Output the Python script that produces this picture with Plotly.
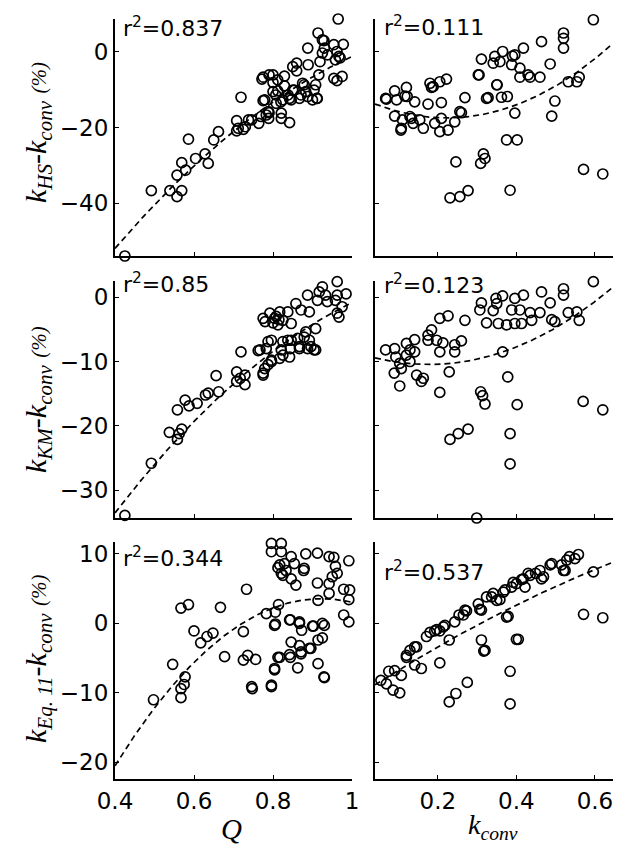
import numpy as np
import plotly.graph_objects as go

# ---------------- data ----------------
# Row 1: k_HS - k_conv (%)
Q_hs = [
    0.425, 0.492, 0.539, 0.557, 0.569, 0.557, 0.569, 0.579, 0.586, 0.604,
    0.628, 0.636, 0.650, 0.662, 0.708, 0.719, 0.708, 0.725, 0.738, 0.764,
    0.775, 0.775, 0.783, 0.789, 0.790, 0.790, 0.800, 0.807, 0.812, 0.821,
    0.825, 0.829, 0.829, 0.842, 0.838, 0.846, 0.850, 0.854, 0.860, 0.871,
    0.879, 0.888, 0.889, 0.888, 0.900, 0.904, 0.911, 0.908, 0.914, 0.916,
    0.919, 0.925, 0.925, 0.965, 0.929, 0.930, 0.938, 0.962, 0.967, 0.958,
    0.954, 0.962, 0.772, 0.800, 0.812, 0.850, 0.875, 0.883, 0.912, 0.867,
    0.842, 0.800, 0.779, 0.808, 0.820, 0.788, 0.770, 0.746, 0.730, 0.821,
    0.712, 0.954, 0.970, 0.975, 0.978, 0.860]
d_hs_Q = [
    -54.0, -36.7, -36.7, -38.3, -36.7, -32.6, -29.3, -31.3, -23.1, -28.2,
    -27.0, -29.5, -23.3, -21.1, -18.2, -12.0, -20.9, -20.5, -18.0, -18.9,
    -12.9, -6.7, -16.7, -17.6, -16.1, -6.1, -8.1, -11.4, -10.3, -17.6,
    -12.7, -9.0, -6.4, -18.7, -11.4, -12.7, -3.9, -10.1, -3.0, -11.4,
    -8.7, 1.0, -3.4, -11.8, -12.7, -10.1, -12.3, -8.7, 5.0, -6.1,
    -2.6, 3.2, -0.3, 8.7, 3.0, 1.0, -0.8, 0.1, -1.2, -2.1,
    -7.0, -7.6, -7.2, -6.1, -7.4, -10.1, -8.3, -10.5, -12.3, -12.3,
    -12.3, -10.5, -12.7, -13.6, -13.2, -15.8, -17.1, -18.0, -19.8, -16.2,
    -20.2, 1.9, -1.6, -6.5, 2.0, -5.0]

k_hs = [
    0.596, 0.520, 0.520, 0.520, 0.464, 0.418, 0.486, 0.365, 0.345, 0.341,
    0.358, 0.311, 0.390, 0.388, 0.409, 0.409, 0.430, 0.435, 0.460, 0.305,
    0.351, 0.328, 0.362, 0.377, 0.396, 0.498, 0.490, 0.532, 0.554, 0.560,
    0.269, 0.260, 0.222, 0.205, 0.180, 0.188, 0.120, 0.090, 0.069, 0.095,
    0.122, 0.141, 0.175, 0.209, 0.090, 0.110, 0.133, 0.154, 0.106, 0.163,
    0.192, 0.205, 0.226, 0.243, 0.375, 0.402, 0.316, 0.309, 0.320, 0.246,
    0.231, 0.256, 0.277, 0.384, 0.571, 0.620, 0.299, 0.303, 0.350, 0.324,
    0.116, 0.067, 0.107, 0.129, 0.137, 0.209, 0.256, 0.184, 0.396]
d_hs_k = [
    8.5, 5.0, 3.6, 1.0, 2.7, 1.0, -3.2, 0.1, -1.2, -3.0,
    -2.6, -1.9, -1.1, -3.4, -4.3, -6.7, -6.1, -6.7, -6.7, -6.1,
    -8.7, -12.1, -12.0, -11.8, -16.2, -13.0, -17.0, -7.9, -7.9, -6.7,
    -12.1, -16.1, -7.2, -7.9, -8.3, -9.2, -9.4, -10.3, -12.5, -12.7,
    -11.8, -13.2, -13.8, -13.4, -17.0, -18.0, -17.6, -18.0, -20.7, -20.2,
    -18.9, -21.1, -20.7, -18.5, -23.3, -23.3, -27.0, -29.5, -28.2, -29.1,
    -38.6, -38.3, -36.7, -36.6, -31.1, -32.3, -54.2, -6.1, -8.7, -12.3,
    -11.7, -12.3, -20.2, -17.1, -18.9, -17.6, -15.8, -9.4, -0.8]

# Row 2: k_KM - k_conv (%)
Q_km = [
    0.425, 0.492, 0.5375, 0.558, 0.5625, 0.569, 0.558, 0.5775, 0.5875, 0.608,
    0.629, 0.636, 0.656, 0.6625, 0.719, 0.708, 0.708, 0.717, 0.729, 0.729,
    0.7625, 0.775, 0.779, 0.7875, 0.796, 0.7875, 0.775, 0.792, 0.804, 0.817,
    0.825, 0.825, 0.825, 0.842, 0.844, 0.8375, 0.8375, 0.858, 0.8625, 0.867,
    0.871, 0.8875, 0.883, 0.892, 0.896, 0.904, 0.908, 0.9125, 0.917, 0.925,
    0.9625, 0.933, 0.9625, 0.958, 0.9375, 0.9625, 0.967, 0.892, 0.808, 0.8125,
    0.879, 0.908, 0.8875, 0.846, 0.796, 0.783, 0.821, 0.817, 0.796, 0.775,
    0.867, 0.767, 0.975, 0.985, 0.846, 0.780, 0.800, 0.815]
d_km_Q = [
    -33.9, -25.8, -21.0, -22.1, -21.2, -20.5, -17.5, -16.0, -16.9, -16.5,
    -15.2, -14.9, -12.2, -14.7, -8.5, -11.6, -13.1, -12.6, -13.6, -12.1,
    -8.3, -12.1, -11.1, -10.5, -10.0, -6.9, -3.3, -2.5, -3.3, -2.3,
    -3.6, -9.0, -6.9, -9.3, -8.0, -6.7, -2.3, -1.0, -6.4, -7.7,
    -2.0, 0.3, -5.4, -6.7, -7.7, -8.2, -4.9, -0.5, 0.8, 1.6,
    2.4, 0.3, 0.3, -0.5, -0.7, -2.5, -3.1, -2.3, -3.0, -4.3,
    -6.2, -8.2, -8.0, -6.7, -6.7, -8.0, -8.2, -9.5, -9.8, -11.8,
    -8.0, -8.2, -1.5, 0.5, -4.1, -3.8, -4.0, -3.5]

k_km = [
    0.596, 0.520, 0.520, 0.464, 0.418, 0.396, 0.365, 0.348, 0.350, 0.311,
    0.307, 0.341, 0.388, 0.409, 0.435, 0.460, 0.486, 0.532, 0.554, 0.560,
    0.490, 0.498, 0.324, 0.354, 0.375, 0.396, 0.413, 0.439, 0.269, 0.205,
    0.226, 0.184, 0.175, 0.175, 0.197, 0.213, 0.243, 0.260, 0.205, 0.243,
    0.141, 0.120, 0.129, 0.141, 0.120, 0.090, 0.067, 0.093, 0.107, 0.089,
    0.129, 0.103, 0.146, 0.163, 0.158, 0.205, 0.229, 0.365, 0.378, 0.309,
    0.314, 0.320, 0.402, 0.570, 0.620, 0.231, 0.252, 0.277, 0.384, 0.384,
    0.299, 0.103]
d_km_k = [
    2.4, 1.3, 0.3, 0.8, 0.3, -0.2, 0.2, -0.2, -1.0, -0.9,
    -2.0, -2.1, -2.0, -2.0, -2.4, -2.4, -0.9, -2.4, -2.3, -3.6,
    -3.5, -3.8, -4.0, -4.1, -4.3, -4.1, -4.1, -3.6, -3.6, -3.3,
    -2.9, -5.1, -5.9, -6.7, -6.7, -7.1, -7.4, -6.8, -8.5, -8.5,
    -6.6, -7.2, -8.2, -8.5, -9.0, -8.0, -8.2, -9.3, -11.1, -11.8,
    -10.0, -13.8, -12.1, -12.6, -13.1, -14.8, -11.6, -8.5, -12.4, -14.7,
    -15.3, -16.6, -16.7, -16.2, -17.5, -22.1, -21.2, -20.5, -21.2, -25.9,
    -34.3, -10.3]

# Row 3: k_Eq.11 - k_conv (%)
Q_eq = [
    0.4275, 0.4975, 0.546, 0.567, 0.567, 0.5775, 0.575, 0.567, 0.586, 0.600,
    0.617, 0.633, 0.648, 0.667, 0.6775, 0.725, 0.733, 0.725, 0.736, 0.756,
    0.7475, 0.783, 0.796, 0.804, 0.806, 0.814, 0.817, 0.8125, 0.821, 0.829,
    0.844, 0.846, 0.844, 0.846, 0.858, 0.8625, 0.867, 0.867, 0.8725, 0.871,
    0.8775, 0.896, 0.9025, 0.9125, 0.914, 0.914, 0.914, 0.925, 0.929, 0.796,
    0.821, 0.796, 0.821, 0.846, 0.883, 0.9125, 0.942, 0.954, 0.992, 0.817,
    0.854, 0.833, 0.879, 0.958, 0.825, 0.9625, 0.950, 0.942, 0.942, 0.979,
    0.994, 0.992, 0.979, 0.992, 0.806, 0.804, 0.842, 0.867, 0.900, 0.930,
    0.892, 0.925, 0.842, 0.8125, 0.871, 0.804, 0.930, 0.746, 0.796]
d_eq_Q = [
    -22.5, -11.0, -5.9, -10.7, -9.4, -7.7, -8.8, 2.2, 2.7, -1.1,
    -2.8, -1.9, -1.4, 2.3, -4.8, -1.2, 4.9, -5.3, -4.6, -5.2,
    -9.4, 1.4, -9.1, -6.7, -0.1, 2.7, -4.9, 8.0, 7.2, 8.6,
    0.5, -2.7, -4.9, 6.4, 5.5, -6.4, 0.0, -3.2, -1.0, -4.1,
    7.6, -3.6, -0.4, 5.8, 3.3, -5.8, -2.4, 0.0, -7.7, 11.5,
    11.5, 10.3, 10.3, 9.6, 10.0, 10.1, 9.6, 9.5, 9.0, 8.4,
    8.6, 7.6, 7.9, 8.2, 6.9, 7.2, 6.7, 5.7, 4.3, 4.9,
    4.8, 3.4, 1.2, 0.2, 1.6, -0.3, 0.5, 0.2, -0.4, -0.3,
    -3.6, -2.1, -4.5, -4.9, -4.4, -6.5, -7.8, -9.1, -8.9]

k_eq = [
    0.596, 0.571, 0.620, 0.299, 0.384, 0.384, 0.405, 0.379, 0.311, 0.317,
    0.307, 0.229, 0.246, 0.275, 0.205, 0.229, 0.103, 0.086, 0.069, 0.090,
    0.107, 0.141, 0.158, 0.120, 0.129, 0.146, 0.171, 0.180, 0.197, 0.214,
    0.243, 0.265, 0.273, 0.303, 0.324, 0.341, 0.350, 0.367, 0.388, 0.400,
    0.4175, 0.435, 0.460, 0.469, 0.486, 0.515, 0.524, 0.558, 0.549, 0.535,
    0.528, 0.490, 0.520, 0.449, 0.430, 0.413, 0.392, 0.371, 0.422, 0.464,
    0.358, 0.337, 0.311, 0.269, 0.254, 0.218, 0.205, 0.192, 0.375, 0.400,
    0.320, 0.141, 0.120, 0.055, 0.075]
d_eq_k = [
    7.4, 1.3, 0.8, -22.5, -11.6, -6.9, -2.3, 1.0, -2.4, -4.0,
    2.0, -11.3, -10.1, -8.5, -5.7, -2.4, -10.0, -9.6, -8.7, -6.8,
    -7.5, -6.0, -6.5, -4.9, -3.9, -3.4, -1.9, -1.3, -0.9, -0.5,
    0.2, 1.2, 1.8, 2.8, 3.8, 4.3, 3.3, 4.5, 5.2, 5.7,
    6.4, 6.9, 7.6, 6.7, 8.4, 8.4, 7.6, 9.9, 9.3, 9.6,
    9.1, 8.6, 7.6, 7.2, 7.2, 6.3, 5.9, 4.8, 5.2, 6.4,
    3.4, 3.8, 1.9, 1.9, 1.2, -0.3, -1.1, -1.1, 0.9, -2.3,
    -3.9, -3.4, -4.6, -8.2, -6.9]

# quadratic fit coefficients (highest power first)
fit_hs_Q = [-61.7, 170.96, -110.5]
fit_hs_k = [110.1, -49.1, -12.0]
fit_km_Q = [-41.5, 112.5, -71.86]
fit_km_k = [54.7, -19.39, -8.75]
fit_eq_Q = [-88.0, 162.4, -71.38]
fit_eq_k = [-11.2, 36.8, -10.3]

r2_labels = ["0.837", "0.111", "0.85", "0.123", "0.344", "0.537"]

x_ticks_Q = [0.4, 0.6, 0.8, 1.0]
x_ticktext_Q = ["0.4", "0.6", "0.8", "1"]
x_ticks_k = [0.2, 0.4, 0.6]
x_ticktext_k = ["0.2", "0.4", "0.6"]
y_ticks = [[-40, -20, 0], [-30, -20, -10, 0], [-20, -10, 0, 10]]

# ---------------- layout geometry (page pixels; page has an 8px body margin) ----------------
OFF = 8
FW, FH = 620, 842


def fx(px):
    return (px - OFF) / FW


def fy(py):
    return 1 - (py - OFF) / FH


col_dom = [[fx(115), fx(352)], [fx(375), fx(613)]]
row_dom = [[fy(256), fy(19)], [fy(518), fy(281)], [fy(779), fy(542)]]
x_ranges = [[0.4, 1.0], [0.04, 0.646]]
y_ranges = [[-54, 8.7], [-34.3, 2.5], [-22.4, 11.7]]

panels = [
    (Q_hs, d_hs_Q, fit_hs_Q), (k_hs, d_hs_k, fit_hs_k),
    (Q_km, d_km_Q, fit_km_Q), (k_km, d_km_k, fit_km_k),
    (Q_eq, d_eq_Q, fit_eq_Q), (k_eq, d_eq_k, fit_eq_k),
]

fig = go.Figure()
SANS = "DejaVu Sans, Arial, sans-serif"
SERIF = "Liberation Serif, Times New Roman, serif"
TICKFONT = dict(family=SANS, size=23, color="black")

for i, (xv, yv, coef) in enumerate(panels):
    r, c = divmod(i, 2)
    n = i + 1
    xa = "x" if n == 1 else f"x{n}"
    ya = "y" if n == 1 else f"y{n}"
    xr = x_ranges[c]
    xf = np.linspace(xr[0], xr[1], 200)
    yf = np.polyval(coef, xf)
    fig.add_trace(go.Scatter(x=xf, y=yf, mode="lines", xaxis=xa, yaxis=ya,
                             line=dict(color="black", width=1.7, dash="6px,4px"),
                             showlegend=False, hoverinfo="skip"))
    fig.add_trace(go.Scatter(x=xv, y=yv, mode="markers", xaxis=xa, yaxis=ya,
                             marker=dict(symbol="circle-open", size=10, color="black",
                                         line=dict(width=1.7, color="black")),
                             cliponaxis=False, showlegend=False))
    axis_common = dict(showline=True, linecolor="black", linewidth=2, ticks="inside",
                       ticklen=4, tickwidth=1.2, tickcolor="black", showgrid=False,
                       zeroline=False, mirror=False, tickfont=TICKFONT, automargin=False)
    xkey = "xaxis" if n == 1 else f"xaxis{n}"
    ykey = "yaxis" if n == 1 else f"yaxis{n}"
    fig.layout[xkey] = dict(
        domain=col_dom[c], range=xr, anchor=ya,
        tickvals=x_ticks_Q if c == 0 else x_ticks_k,
        ticktext=x_ticktext_Q if c == 0 else x_ticktext_k,
        showticklabels=(r == 2), **axis_common)
    fig.layout[ykey] = dict(
        domain=row_dom[r], range=y_ranges[r], anchor=xa,
        tickvals=y_ticks[r], showticklabels=(c == 0), **axis_common)

annotations = []
# r^2 labels (page pixel positions of the text's left edge / vertical centre)
r2_pos = [(121, 27), (382, 26), (121, 283), (382, 284), (121, 557), (382, 571)]
for lab, (px, py) in zip(r2_labels, r2_pos):
    annotations.append(dict(
        x=fx(px), y=fy(py), xref="paper", yref="paper", xanchor="left", yanchor="middle",
        text=f"r<sup>2</sup>={lab}", showarrow=False,
        font=dict(family=SANS, size=22, color="black")))

ytitles = [
    "<i>k</i><sub><i>HS</i></sub>-<i>k</i><sub><i>conv</i></sub> <span style='font-size:21px'><i>(%)</i></span>",
    "<i>k</i><sub><i>KM</i></sub>-<i>k</i><sub><i>conv</i></sub> <span style='font-size:21px'><i>(%)</i></span>",
    "<i>k</i><sub><i>Eq. 11</i></sub>-<i>k</i><sub><i>conv</i></sub> <span style='font-size:21px'><i>(%)</i></span>",
]
ytitle_centers = [133, 400, 659]
for t, cy in zip(ytitles, ytitle_centers):
    annotations.append(dict(
        x=fx(38), y=fy(cy), xref="paper", yref="paper", xanchor="center", yanchor="middle",
        text=t, textangle=-90, showarrow=False,
        font=dict(family=SERIF, size=30, color="black")))

annotations.append(dict(x=fx(231), y=fy(829), xref="paper", yref="paper",
                        xanchor="center", yanchor="middle", text="<i>Q</i>", showarrow=False,
                        font=dict(family=SERIF, size=29, color="black")))
annotations.append(dict(x=fx(493), y=fy(826), xref="paper", yref="paper",
                        xanchor="center", yanchor="middle",
                        text="<i>k</i><sub><i>conv</i></sub>", showarrow=False,
                        font=dict(family=SERIF, size=28, color="black")))

fig.update_layout(width=FW, height=FH, margin=dict(l=0, r=0, t=0, b=0, pad=0),
                  paper_bgcolor="white", plot_bgcolor="white",
                  annotations=annotations, showlegend=False)

fig.write_html("out.html")
